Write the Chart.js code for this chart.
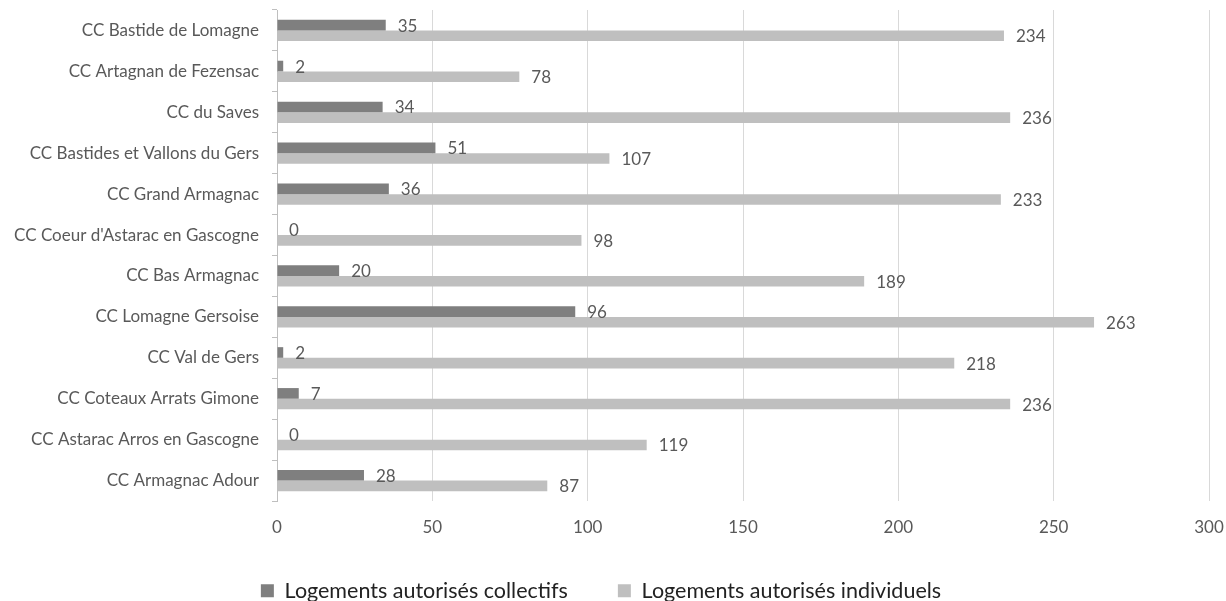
<!DOCTYPE html>
<html>
<head>
<meta charset="utf-8">
<script src="https://cdn.jsdelivr.net/npm/chart.js@4/dist/chart.umd.min.js"></script>
<style>
  html, body { margin: 0; padding: 0; background: #ffffff; }
  #wrap { width: 1226px; height: 601px; }
</style>
</head>
<body>
<div id="wrap"><canvas id="c" width="1226" height="601"></canvas></div>
<script>
// Communautés de communes, listed top to bottom
const communes = [
  "CC Bastide de Lomagne",
  "CC Artagnan de Fezensac",
  "CC du Saves",
  "CC Bastides et Vallons du Gers",
  "CC Grand Armagnac",
  "CC Coeur d'Astarac en Gascogne",
  "CC Bas Armagnac",
  "CC Lomagne Gersoise",
  "CC Val de Gers",
  "CC Coteaux Arrats Gimone",
  "CC Astarac Arros en Gascogne",
  "CC Armagnac Adour"
];
const collectifs  = [35, 2, 34, 51, 36, 0, 20, 96, 2, 7, 0, 28];
const individuels = [234, 78, 236, 107, 233, 98, 189, 263, 218, 236, 119, 87];
const seriesNames = ["Logements autorisés collectifs", "Logements autorisés individuels"];
const xTicks = [0, 50, 100, 150, 200, 250, 300];

const FONT = "Lato, 'Open Sans', sans-serif";
const TEXT = "#595959";

// Writes each bar's value just past its end
const valueLabels = {
  id: "valueLabels",
  afterDatasetsDraw(chart) {
    const ctx = chart.ctx;
    ctx.save();
    ctx.font = "17px " + FONT;
    ctx.fillStyle = TEXT;
    ctx.textAlign = "left";
    ctx.textBaseline = "middle";
    chart.data.datasets.forEach((ds, i) => {
      chart.getDatasetMeta(i).data.forEach((bar, j) => {
        ctx.fillText(String(ds.data[j]), bar.x + 12, bar.y + 1);
      });
    });
    ctx.restore();
  }
};

// Raises the legend box's top edge and nudges the row left
const legendOffset = {
  id: "legendOffset",
  afterLayout(chart) {
    const lg = chart.legend;
    if (!lg) return;
    lg.top -= 16;
    lg.height = lg.bottom - lg.top;
    lg.left -= 12; lg.right -= 12;
  }
};

new Chart(document.getElementById("c"), {
  type: "bar",
  data: {
    labels: communes,
    datasets: [
      { label: seriesNames[0], data: collectifs, backgroundColor: "#7f7f7f" },
      { label: seriesNames[1], data: individuels, backgroundColor: "#bfbfbf" }
    ]
  },
  options: {
    indexAxis: "y",
    responsive: false,
    animation: false,
    devicePixelRatio: 1,
    categoryPercentage: 0.52,
    barPercentage: 1,
    layout: { padding: { left: 0, right: 0, top: 10, bottom: 0 } },
    scales: {
      x: {
        min: 0,
        max: 300,
        afterBuildTicks(scale) { scale.ticks = xTicks.map(v => ({ value: v })); },
        afterFit(scale) { scale.height = 45; scale.paddingLeft = 0; scale.paddingRight = 17; },
        grid: { color: "#d9d9d9", drawTicks: false },
        border: { display: false },
        ticks: { color: TEXT, font: { family: FONT, size: 17 }, padding: 16 }
      },
      y: {
        afterFit(scale) { scale.width = 277; scale.paddingTop = 0; scale.paddingBottom = 0; },
        grid: { drawOnChartArea: false, drawTicks: true, tickLength: 5, color: "#bfbfbf", offset: true },
        border: { display: true, color: "#bfbfbf" },
        ticks: { color: TEXT, font: { family: FONT, size: 17 }, padding: 13 }
      }
    },
    plugins: {
      legend: {
        position: "bottom",
        maxHeight: 55,
        labels: {
          color: "#222222",
          font: { family: FONT, size: 21.5 },
          boxWidth: 13,
          boxHeight: 13,
          padding: 50
        }
      },
      tooltip: { enabled: false }
    }
  },
  plugins: [valueLabels, legendOffset]
});
</script>
</body>
</html>
